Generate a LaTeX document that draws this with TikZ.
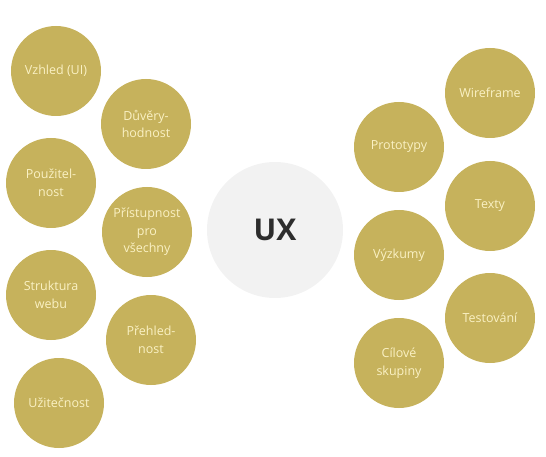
\documentclass[tikz,border=0pt]{standalone}
\usepackage{fontspec}
\setmainfont{Open Sans}
\usetikzlibrary{positioning}
\definecolor{goldfill}{RGB}{198,178,92}
\definecolor{creamtext}{RGB}{250,241,196}
\definecolor{uxfill}{RGB}{242,242,242}
\definecolor{uxtext}{RGB}{45,45,45}
\tikzset{
  topic/.style={circle, fill=goldfill, text=creamtext, minimum size=90pt, inner sep=0pt,
    align=center, font=\fontsize{12.5}{17.5}\selectfont},
  core/.style={circle, fill=uxfill, text=uxtext, minimum size=136pt, inner sep=0pt,
    font=\fontsize{30}{34}\selectfont\bfseries}
}
\begin{document}
\begin{tikzpicture}[x=1pt, y=1pt]
  \useasboundingbox (0,0) rectangle (546,-457);
  \node[core] (ux) at (275,-230) {UX};
  % left side
  \node[topic] (vzhled) at (56,-71) {Vzhled (UI)};
  \node[topic] (pouzitelnost) [below of=vzhled, node distance=112pt, xshift=-5pt] {Použitel-\\nost};
  \node[topic] (struktura) [below of=pouzitelnost, node distance=112pt] {Struktura\\webu};
  \node[topic] (uzitecnost) [below of=struktura, node distance=108pt, xshift=8pt] {Užitečnost};
  \node[topic] (duvery) at (146,-124) {Důvěry-\\hodnost};
  \node[topic] (pristupnost) [below of=duvery, node distance=108pt, xshift=1pt] {Přístupnost\\pro\\všechny};
  \node[topic] (prehlednost) [below of=pristupnost, node distance=108pt, xshift=4pt] {Přehled-\\nost};
  % right side
  \node[topic] (wireframe) at (490,-93) {Wireframe};
  \node[topic] (texty) [below of=wireframe, node distance=113pt] {Texty};
  \node[topic] (testovani) [below of=texty, node distance=112pt] {Testování};
  \node[topic] (prototypy) at (399,-147) {Prototypy};
  \node[topic] (vyzkumy) [below of=prototypy, node distance=108pt] {Výzkumy};
  \node[topic] (cilove) [below of=vyzkumy, node distance=108pt] {Cílové\\skupiny};
\end{tikzpicture}
\end{document}
